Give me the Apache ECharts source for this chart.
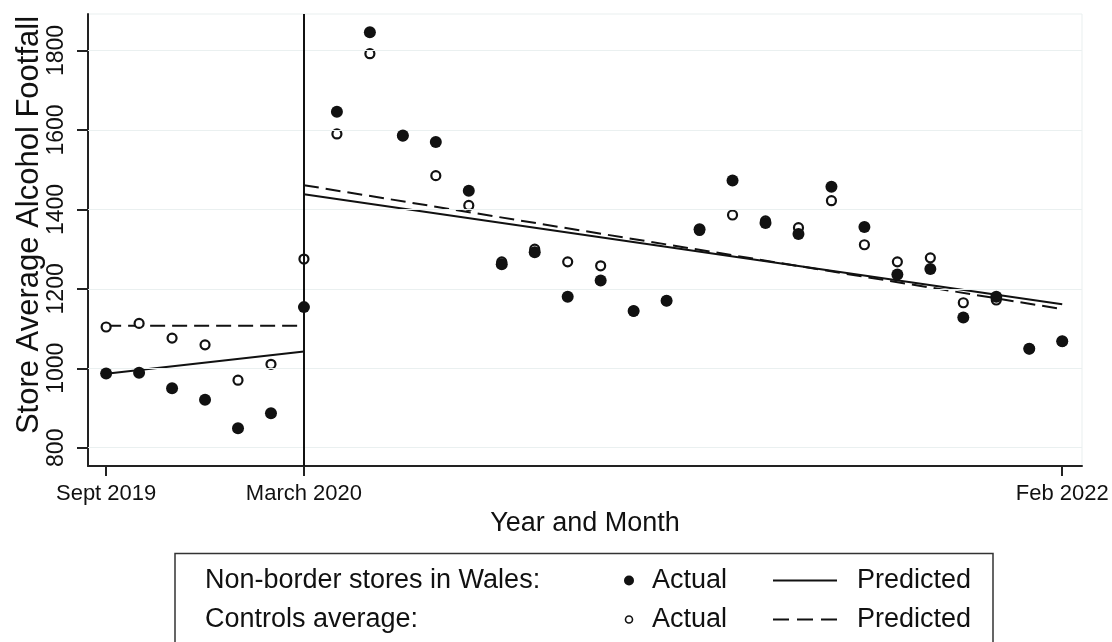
<!DOCTYPE html>
<html>
<head>
<meta charset="utf-8">
<script src="https://cdn.jsdelivr.net/npm/echarts@6/dist/echarts.min.js"></script>
<style>
  html, body { margin: 0; padding: 0; background: #fff; }
  #chart { width: 1112px; height: 642px; }
</style>
</head>
<body>
<div id="chart"></div>
<script>
// months since Sept 2019 (0 = Sept 2019, 6 = March 2020, 29 = Feb 2022)
const months = [0, 1, 2, 3, 4, 5, 6, 7, 8, 9, 10, 11, 12, 13, 14, 15, 16, 17, 18, 19, 20, 21, 22, 23, 24, 25, 26, 27, 28, 29];
const walesActual = [987, 989, 950, 921, 849, 887, 1154, 1646, 1846, 1586, 1570, 1447, 1262, 1292, 1180, 1221, 1144, 1170, 1350, 1473, 1366, 1338, 1457, 1356, 1236, 1250, 1128, 1180, 1049, 1068];
const controlsActual = [1104, 1113, 1076, 1059, 970, 1010, 1275, 1590, 1792, 1585, 1485, 1410, 1268, 1300, 1268, 1258, 1144, 1170, 1347, 1386, 1371, 1354, 1422, 1311, 1268, 1278, 1165, 1172, 1049, 1068];

// fitted lines, before and after March 2020
const preMonths = [0, 6];
const postMonths = [6, 29];
const walesPredPre = [986, 1042];
const walesPredPost = [1438, 1161];
const controlsPredPre = [1107, 1107];
const controlsPredPost = [1461, 1149];

const xTicks = [0, 6, 29];
const xTickLabels = ['Sept 2019', 'March 2020', 'Feb 2022'];
const yTicks = [800, 1000, 1200, 1400, 1600, 1800];

const font = 'Liberation Sans, Arial, sans-serif';
const ink = '#111';

const pairs = (xs, ys) => xs.map((x, i) => [x, ys[i]]);

const chart = echarts.init(document.getElementById('chart'));

chart.setOption({
  animation: false,
  backgroundColor: '#fff',
  textStyle: { fontFamily: font, color: ink },
  grid: {
    left: 88, right: 30, top: 14, bottom: 176,
    show: true, borderColor: '#e9efef', borderWidth: 1,
    outerBoundsMode: 'none'
  },
  xAxis: {
    type: 'value',
    min: -0.55,
    max: 29.6,
    name: 'Year and Month',
    nameLocation: 'middle',
    nameGap: 44,
    nameMoveOverlap: false,
    nameTextStyle: { fontSize: 27, color: ink, fontFamily: font },
    axisLine: { onZero: false, lineStyle: { color: '#222', width: 2 } },
    axisTick: { customValues: xTicks, length: 10, lineStyle: { color: '#222', width: 2 } },
    axisLabel: {
      customValues: xTicks,
      fontSize: 22, color: ink, fontFamily: font, margin: 17,
      formatter: v => xTickLabels[xTicks.indexOf(v)] || ''
    },
    splitLine: { show: false }
  },
  yAxis: {
    type: 'value',
    min: 754,
    max: 1892,
    name: 'Store Average Alcohol Footfall',
    nameLocation: 'middle',
    nameRotate: 90,
    nameGap: 43,
    nameMoveOverlap: false,
    nameTextStyle: { fontSize: 31, color: ink, fontFamily: font, padding: [0, 0, 0, 30] },
    axisLine: { onZero: false, lineStyle: { color: '#222', width: 2 } },
    axisTick: { customValues: yTicks, length: 11, lineStyle: { color: '#222', width: 2 } },
    axisLabel: {
      customValues: yTicks,
      rotate: 90,
      fontSize: 23, color: ink, fontFamily: font, margin: 20,
      formatter: v => String(v)
    },
    splitLine: { show: false }
  },
  series: [
    {
      // faint horizontal grid lines at the y ticks
      type: 'line',
      data: [],
      z: 1,
      silent: true,
      markLine: {
        silent: true,
        symbol: 'none',
        label: { show: false },
        lineStyle: { color: '#eaf0f0', width: 1, type: 'solid' },
        data: yTicks.map(v => ({ yAxis: v }))
      }
    },
    {
      name: 'Controls predicted (pre)',
      type: 'line',
      data: pairs(preMonths, controlsPredPre),
      showSymbol: false,
      z: 3,
      lineStyle: { color: ink, width: 2, type: [15, 7] }
    },
    {
      name: 'Controls predicted (post)',
      type: 'line',
      data: pairs(postMonths, controlsPredPost),
      showSymbol: false,
      z: 3,
      lineStyle: { color: ink, width: 2, type: [15, 7] }
    },
    {
      name: 'Wales predicted (pre)',
      type: 'line',
      data: pairs(preMonths, walesPredPre),
      showSymbol: false,
      z: 3,
      lineStyle: { color: ink, width: 2 }
    },
    {
      name: 'Wales predicted (post)',
      type: 'line',
      data: pairs(postMonths, walesPredPost),
      showSymbol: false,
      z: 3,
      lineStyle: { color: ink, width: 2 },
      markLine: {
        silent: true,
        symbol: 'none',
        label: { show: false },
        lineStyle: { color: ink, width: 2, type: 'solid' },
        data: [{ xAxis: 6 }]
      }
    },
    {
      name: 'Controls actual',
      type: 'scatter',
      data: pairs(months, controlsActual),
      symbol: 'circle',
      symbolSize: 9,
      z: 4,
      itemStyle: { color: '#fff', borderColor: ink, borderWidth: 2.2, opacity: 1 }
    },
    {
      name: 'Wales actual',
      type: 'scatter',
      data: pairs(months, walesActual),
      symbol: 'circle',
      symbolSize: 12,
      z: 5,
      itemStyle: { color: ink, opacity: 1 }
    }
  ],
  graphic: [
    {
      type: 'rect',
      shape: { x: 175, y: 553.5, width: 818, height: 120 },
      style: { fill: 'none', stroke: '#333', lineWidth: 1.5 }
    },
    { type: 'text', x: 205, y: 580.5, style: { text: 'Non-border stores in Wales:', font: '27px ' + font, fill: ink, verticalAlign: 'middle' } },
    { type: 'text', x: 205, y: 619.5, style: { text: 'Controls average:', font: '27px ' + font, fill: ink, verticalAlign: 'middle' } },
    { type: 'circle', shape: { cx: 629, cy: 580.5, r: 5 }, style: { fill: ink } },
    { type: 'circle', shape: { cx: 629, cy: 619.5, r: 3.5 }, style: { fill: '#fff', stroke: ink, lineWidth: 1.6 } },
    { type: 'text', x: 652, y: 580.5, style: { text: 'Actual', font: '27px ' + font, fill: ink, verticalAlign: 'middle' } },
    { type: 'text', x: 652, y: 619.5, style: { text: 'Actual', font: '27px ' + font, fill: ink, verticalAlign: 'middle' } },
    { type: 'line', shape: { x1: 773, y1: 580.5, x2: 837, y2: 580.5 }, style: { stroke: ink, lineWidth: 2 } },
    { type: 'line', shape: { x1: 773, y1: 619.5, x2: 837, y2: 619.5 }, style: { stroke: ink, lineWidth: 2, lineDash: [16, 8] } },
    { type: 'text', x: 857, y: 580.5, style: { text: 'Predicted', font: '27px ' + font, fill: ink, verticalAlign: 'middle' } },
    { type: 'text', x: 857, y: 619.5, style: { text: 'Predicted', font: '27px ' + font, fill: ink, verticalAlign: 'middle' } }
  ]
});
</script>
</body>
</html>
